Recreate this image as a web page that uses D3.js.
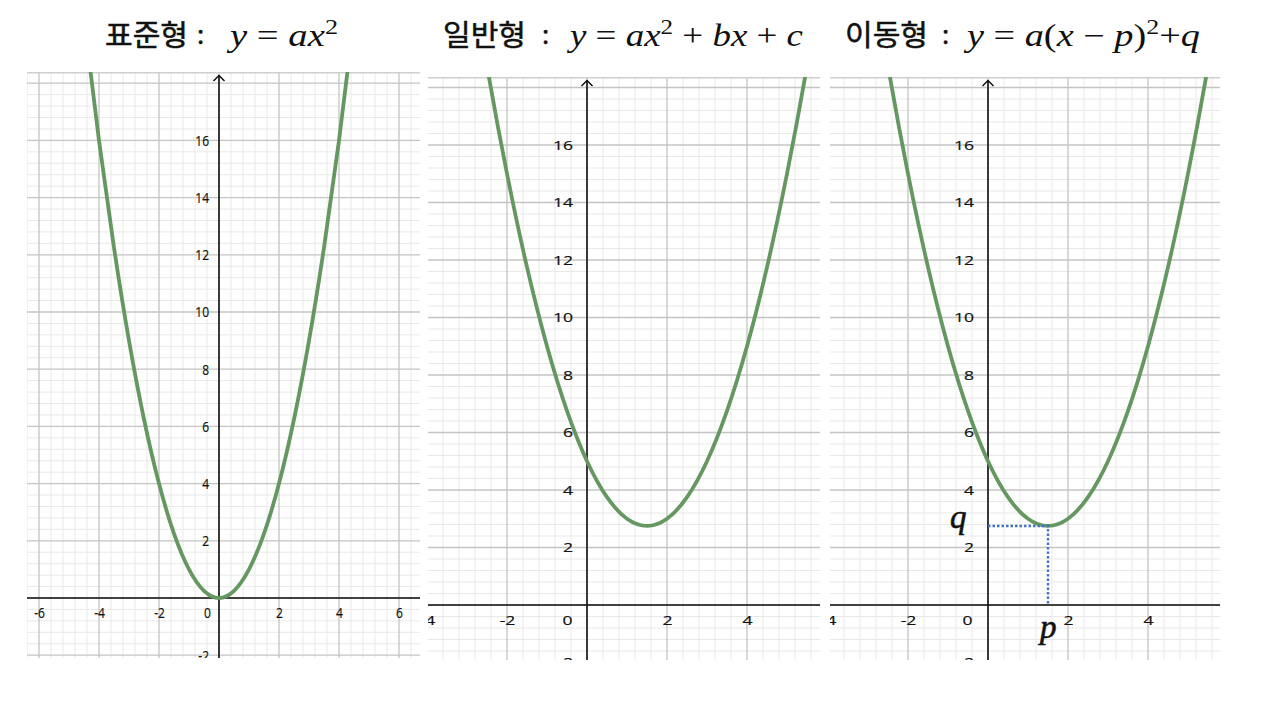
<!DOCTYPE html>
<html><head><meta charset="utf-8">
<script src="https://cdn.jsdelivr.net/npm/d3@7"></script>
<style>
body{margin:0;background:#fff;}
svg{display:block;}
</style></head><body>
<script>
// ---- data ----
const titlesKo = ["표준형", "일반형", "이동형"];
const xTicks1 = [-6, -4, -2, 0, 2, 4, 6];
const xTicks23 = [-4, -2, 0, 2, 4];
const yTicks = [-2, 2, 4, 6, 8, 10, 12, 14, 16];
const curve1X = [-5, -4.5, -4, -3.5, -3, -2.5, -2, -1.5, -1, -0.5, 0, 0.5, 1, 1.5, 2, 2.5, 3, 3.5, 4, 4.5, 5];
const curve1Y = [25, 20.25, 16, 12.25, 9, 6.25, 4, 2.25, 1, 0.25, 0, 0.25, 1, 2.25, 4, 6.25, 9, 12.25, 16, 20.25, 25];
const curve2X = [-3, -2.5, -2, -1.5, -1, -0.5, 0, 0.5, 1, 1.5, 2, 2.5, 3, 3.5, 4, 4.5, 5, 5.5, 6];
const curve2Y = [23, 18.75, 15, 11.75, 9, 6.75, 5, 3.75, 3, 2.75, 3, 3.75, 5, 6.75, 9, 11.75, 15, 18.75, 23];
const vertexP = 1.5, vertexQ = 2.75;

// ---- layout ----
const W = 1280, H = 708;
const panels = [
  {left: 27, right: 420, top: 72, bottom: 658, ox: 219, oy: 598, sx: 30, sy: 28.6,
   xt: xTicks1, cx: curve1X, cy: curve1Y, fs: 15, stretch: 0.8, xpad: 9, ypad: 10, zeroDx: -12, vertex: false},
  {left: 428, right: 820, top: 77, bottom: 660, ox: 587, oy: 605, sx: 40, sy: 28.75,
   xt: xTicks23, cx: curve2X, cy: curve2Y, fs: 13.5, stretch: 1.3, xpad: 10, ypad: 14, zeroDx: -20, vertex: false},
  {left: 830, right: 1220, top: 77, bottom: 660, ox: 988, oy: 605, sx: 40, sy: 28.75,
   xt: xTicks23, cx: curve2X, cy: curve2Y, fs: 13.5, stretch: 1.3, xpad: 10, ypad: 14, zeroDx: -21, vertex: true}
];

const svg = d3.select("body").append("svg").attr("width", W).attr("height", H);

panels.forEach((p, i) => {
  const x = d3.scaleLinear()
    .domain([(p.left - p.ox) / p.sx, (p.right - p.ox) / p.sx])
    .range([p.left, p.right]);
  const y = d3.scaleLinear()
    .domain([(p.oy - p.bottom) / p.sy, (p.oy - p.top) / p.sy])
    .range([p.bottom, p.top]);
  const cid = "clip" + i;
  svg.append("clipPath").attr("id", cid).append("rect")
    .attr("x", p.left).attr("y", p.top).attr("width", p.right - p.left).attr("height", p.bottom - p.top);
  const g = svg.append("g").attr("clip-path", `url(#${cid})`);
  const [x0, x1] = x.domain(), [y0, y1] = y.domain();
  const step = 0.4;
  const minorX = d3.range(Math.ceil(x0 / step), Math.floor(x1 / step) + 1).map(k => k * step);
  const minorY = d3.range(Math.ceil(y0 / step), Math.floor(y1 / step) + 1).map(k => k * step);
  const isMajor = v => Math.abs(v / 2 - Math.round(v / 2)) < 1e-6;
  // minor grid
  g.selectAll(".mvx").data(minorX.filter(v => !isMajor(v))).join("line")
    .attr("x1", d => x(d)).attr("x2", d => x(d)).attr("y1", p.top).attr("y2", p.bottom)
    .attr("stroke", "#e9e9e9").attr("stroke-width", 1);
  g.selectAll(".mhy").data(minorY.filter(v => !isMajor(v))).join("line")
    .attr("y1", d => y(d)).attr("y2", d => y(d)).attr("x1", p.left).attr("x2", p.right)
    .attr("stroke", "#e9e9e9").attr("stroke-width", 1);
  // major grid
  g.selectAll(".Mvx").data(minorX.filter(isMajor)).join("line")
    .attr("x1", d => x(d)).attr("x2", d => x(d)).attr("y1", p.top).attr("y2", p.bottom)
    .attr("stroke", "#c4c4c4").attr("stroke-width", 1.3);
  g.selectAll(".Mhy").data(minorY.filter(isMajor)).join("line")
    .attr("y1", d => y(d)).attr("y2", d => y(d)).attr("x1", p.left).attr("x2", p.right)
    .attr("stroke", "#c4c4c4").attr("stroke-width", 1.3);
  // top shade line
  g.append("line").attr("x1", p.left).attr("x2", p.right).attr("y1", p.top + 0.5).attr("y2", p.top + 0.5)
    .attr("stroke", "#cfcfcf").attr("stroke-width", 2);

  // axes lines
  g.append("line").attr("x1", p.left).attr("x2", p.right).attr("y1", y(0)).attr("y2", y(0))
    .attr("stroke", "#111").attr("stroke-width", 1.6);
  g.append("line").attr("x1", x(0)).attr("x2", x(0)).attr("y1", p.bottom).attr("y2", p.top + 3)
    .attr("stroke", "#111").attr("stroke-width", 1.6);
  g.append("path")
    .attr("d", `M${x(0) - 5.5},${p.top + 9} L${x(0)},${p.top + 3.5} L${x(0) + 5.5},${p.top + 9}`)
    .attr("fill", "none").attr("stroke", "#111").attr("stroke-width", 1.5);

  // tick labels
  const fmt = d => String(d);
  const xa = g.append("g").attr("transform", `translate(0,${y(0)})`)
    .call(d3.axisBottom(x).tickValues(p.xt).tickFormat(fmt).tickSize(0).tickPadding(p.xpad));
  const ya = g.append("g").attr("transform", `translate(${x(0)},0)`)
    .call(d3.axisLeft(y).tickValues(yTicks).tickFormat(fmt).tickSize(0).tickPadding(p.ypad));
  [xa, ya].forEach(a => {
    a.select(".domain").remove();
    a.selectAll("text").attr("font-family", "'Open Sans', sans-serif")
      .attr("font-size", p.fs).attr("fill", "#111")
      .attr("stroke", "#111").attr("stroke-width", 0.2)
      .attr("transform", `scale(${p.stretch},1)`);
  });
  ya.selectAll("text").attr("x", -p.ypad / p.stretch);
  xa.selectAll(".tick").filter(d => d === 0).select("text").attr("dx", p.zeroDx / p.stretch);

  // curve
  const pts = p.cx.map((v, k) => [v, p.cy[k]]);
  g.append("path").datum(pts)
    .attr("d", d3.line().x(d => x(d[0])).y(d => y(d[1])).curve(d3.curveNatural))
    .attr("fill", "none").attr("stroke", "#659760").attr("stroke-width", 3.8);

  if (p.vertex) {
    svg.append("path")
      .attr("d", `M${x(0)},${y(vertexQ)} L${x(vertexP)},${y(vertexQ)} L${x(vertexP)},${y(0)}`)
      .attr("fill", "none").attr("stroke", "#4472c4").attr("stroke-width", 2.4)
      .attr("stroke-dasharray", "2.5,2");
    svg.append("text").attr("x", x(0) - 38).attr("y", y(vertexQ) + 2)
      .attr("font-family", "'Liberation Serif', serif").attr("font-style", "italic")
      .attr("font-size", 33).attr("fill", "#111").attr("stroke", "#111").attr("stroke-width", 0.6)
      .text("q");
    svg.append("text").attr("x", x(vertexP) - 8).attr("y", y(0) + 33)
      .attr("font-family", "'Liberation Serif', serif").attr("font-style", "italic")
      .attr("font-size", 33).attr("fill", "#111").attr("stroke", "#111").attr("stroke-width", 0.6)
      .text("p");
  }
});

// ---- titles ----
const titleKoX = [105, 443, 845];
const colonX = [197, 542, 942];
const formulaX = [230, 570, 967];
const formulaW = [108, 233, 233];
const formulas = [
  [["y", "i"], [" = ", "n"], ["ax", "i"], ["2", "s"]],
  [["y", "i"], [" = ", "n"], ["ax", "i"], ["2", "s"], [" + ", "n"], ["bx", "i"], [" + ", "n"], ["c", "i"]],
  [["y", "i"], [" = ", "n"], ["a", "i"], ["(", "n"], ["x", "i"], [" − ", "n"], ["p", "i"], [")", "n"], ["2", "s"], ["+", "n"], ["q", "i"]]
];
const tb = 46;
titlesKo.forEach((t, i) => {
  svg.append("text").attr("x", titleKoX[i]).attr("y", tb)
    .attr("font-family", "'Noto Sans CJK KR', sans-serif").attr("font-size", 29)
    .attr("font-weight", 400).attr("fill", "#111").attr("stroke", "#111").attr("stroke-width", 0.5)
    .attr("textLength", 83).attr("lengthAdjust", "spacingAndGlyphs").text(t);
  svg.append("text").attr("x", colonX[i]).attr("y", tb - 2)
    .attr("font-family", "'Noto Sans CJK KR', sans-serif").attr("font-size", 26)
    .attr("fill", "#111").attr("stroke", "#111").attr("stroke-width", 0.4).text(":");
  const ft = svg.append("text").attr("x", formulaX[i]).attr("y", tb)
    .attr("font-family", "'Liberation Serif', serif").attr("font-size", 31).attr("fill", "#111")
    .attr("textLength", formulaW[i]).attr("lengthAdjust", "spacingAndGlyphs");
  let sup = false;
  formulas[i].forEach(([s, k]) => {
    const ts = ft.append("tspan").text(s);
    if (k === "i") ts.attr("font-style", "italic");
    if (k === "s") { ts.attr("font-size", 21).attr("dy", -12); sup = true; }
    else if (sup) { ts.attr("dy", 12); sup = false; }
  });
});
</script>
</body></html>
